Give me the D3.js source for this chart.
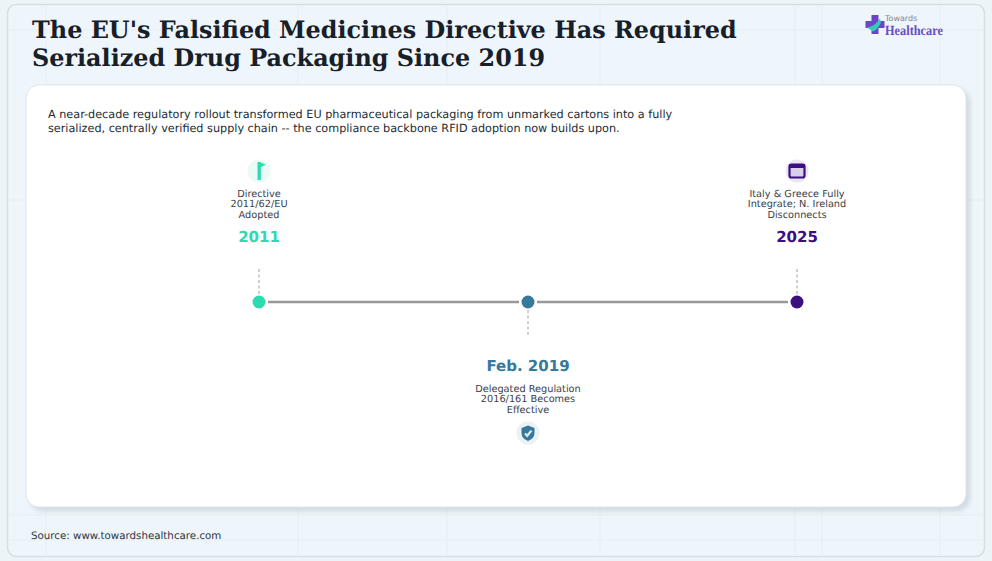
<!DOCTYPE html>
<html>
<head>
<meta charset="utf-8">
<script src="https://cdn.jsdelivr.net/npm/d3@7/dist/d3.min.js"></script>
<style>
html, body { margin: 0; padding: 0; background: #eef5fa; }
svg { display: block; }
text { font-family: "DejaVu Sans", sans-serif; text-rendering: geometricPrecision; }
</style>
</head>
<body>
<div id="chart"></div>
<script>
var titleLines = ["The EU's Falsified Medicines Directive Has Required", "Serialized Drug Packaging Since 2019"];
var subtitleLines = ["A near-decade regulatory rollout transformed EU pharmaceutical packaging from unmarked cartons into a fully",
  "serialized, centrally verified supply chain -- the compliance backbone RFID adoption now builds upon."];
var dates = ["2011", "Feb. 2019", "2025"];
var labels = [["Directive", "2011/62/EU", "Adopted"], ["Delegated Regulation", "2016/161 Becomes", "Effective"], ["Italy & Greece Fully", "Integrate; N. Ireland", "Disconnects"]];
var sides = ["top", "bottom", "top"];
var icons = ["flag", "shield", "window"];
var colors = ["#2ddbb0", "#37799b", "#3b0f80"];
var source = "Source: www.towardshealthcare.com";
var gridX = [46, 298, 447, 600, 795, 822, 940];
var gridY = [30, 200, 515, 540];

var w = 992, h = 561;
var svg = d3.select("#chart").append("svg").attr("width", w).attr("height", h);
var defs = svg.append("defs");

var blur = defs.append("filter").attr("id", "shadow").attr("x", "-5%").attr("y", "-5%").attr("width", "110%").attr("height", "110%");
blur.append("feDropShadow").attr("dx", 4).attr("dy", 4).attr("stdDeviation", 2.5).attr("flood-color", "#9aa6ae").attr("flood-opacity", 0.35);

// background panel
svg.append("rect").attr("width", w).attr("height", h).attr("fill", "#edf4f8");
svg.append("rect").attr("x", 7.5).attr("y", 4.5).attr("width", 977).attr("height", 552).attr("rx", 9)
  .attr("fill", "#eff6fb").attr("stroke", "#d3dfe6").attr("stroke-width", 1.5);

svg.selectAll(".gx").data(gridX).enter().append("line").attr("class", "gx")
  .attr("x1", function (d) { return d; }).attr("x2", function (d) { return d; })
  .attr("y1", 6).attr("y2", 555).attr("stroke", "#e9f1f6").attr("stroke-width", 1.5);
svg.selectAll(".gy").data(gridY).enter().append("line").attr("class", "gy")
  .attr("y1", function (d) { return d; }).attr("y2", function (d) { return d; })
  .attr("x1", 9).attr("x2", 983).attr("stroke", "#e9f1f6").attr("stroke-width", 1.5);

// title
svg.selectAll(".title").data(titleLines).enter().append("text").attr("class", "title")
  .attr("x", 32).attr("y", function (d, i) { return 38 + i * 28; })
  .style("font-family", "'DejaVu Serif', serif")
  .attr("font-weight", "bold").attr("font-size", 23.9).attr("fill", "#17202a")
  .text(function (d) { return d; });

// logo
var logo = svg.append("g").attr("transform", "translate(875,24.5)");
logo.append("path").attr("d", "M-3.5,-9.5 H3.5 V-3.5 H9.5 V3.5 H3.5 V9.5 H-3.5 V3.5 H-9.5 V-3.5 H-3.5 Z").attr("fill", "#6a45c8");
logo.append("path").attr("d", "M-8,3 Q0,2 5,-6 L6,-2 Q2,6 -2,7 Z").attr("fill", "#35c9b8");
svg.append("text").attr("x", 885).attr("y", 21).attr("font-size", 8).attr("fill", "#85858f").text("Towards");
svg.append("text").attr("x", 885).attr("y", 34.5).style("font-family", "'Liberation Serif', serif").attr("font-weight", "bold")
  .attr("font-size", 14).attr("textLength", 58).attr("lengthAdjust", "spacingAndGlyphs").attr("fill", "#6a4bc4").text("Healthcare");

// white card
svg.append("rect").attr("x", 26).attr("y", 85).attr("width", 940).attr("height", 422).attr("rx", 13)
  .attr("fill", "#ffffff").attr("stroke", "#dde6ec").attr("filter", "url(#shadow)");

svg.selectAll(".sub").data(subtitleLines).enter().append("text").attr("class", "sub")
  .attr("x", 48).attr("y", function (d, i) { return 118 + i * 14; })
  .attr("font-size", 11.23).attr("fill", "#222b33").text(function (d) { return d; });

// timeline
var x = d3.scalePoint().domain(dates).range([259, 797]);
var axisY = 302;

svg.selectAll(".seg").data(dates.slice(1)).enter().append("line").attr("class", "seg")
  .attr("x1", function (d, i) { return x(dates[i]) + 9; })
  .attr("x2", function (d) { return x(d) - 9; })
  .attr("y1", axisY).attr("y2", axisY).attr("stroke", "#96999c").attr("stroke-width", 2.4);

var ev = svg.selectAll(".ev").data(dates).enter().append("g").attr("class", "ev")
  .attr("transform", function (d) { return "translate(" + x(d) + ",0)"; });

ev.append("line")
  .attr("y1", function (d, i) { return sides[i] == "top" ? axisY - 33 : axisY + 8; })
  .attr("y2", function (d, i) { return sides[i] == "top" ? axisY - 8 : axisY + 33; })
  .attr("stroke", "#9a9ea2").attr("stroke-width", 1).attr("stroke-dasharray", "3,2.5");

ev.append("circle").attr("cy", axisY).attr("r", 6.5).attr("fill", function (d, i) { return colors[i]; });

ev.append("text").attr("text-anchor", "middle")
  .attr("y", function (d, i) { return sides[i] == "top" ? 242 : 371; })
  .attr("font-size", 15).attr("font-weight", "bold")
  .attr("fill", function (d, i) { return colors[i]; })
  .text(function (d) { return d; });

ev.each(function (d, i) {
  var g = d3.select(this);
  var y0 = sides[i] == "top" ? 196.5 : 391.5;
  g.selectAll(".lbl").data(labels[i]).enter().append("text").attr("class", "lbl")
    .attr("text-anchor", "middle").attr("y", function (t, j) { return y0 + j * 10.5; })
    .attr("font-size", 9.75).attr("fill", "#3a4249").text(function (t) { return t; });

  var iy = sides[i] == "top" ? 171 : 433;
  var c = colors[i];
  g.append("circle").attr("cy", iy).attr("r", 11.5).attr("fill", c).attr("opacity", 0.1);
  var ic = g.append("g").attr("transform", "translate(0," + iy + ")");
  if (icons[i] == "flag") {
    ic.append("rect").attr("x", -1.5).attr("y", -9).attr("width", 3.4).attr("height", 18).attr("fill", c);
    ic.append("path").attr("d", "M0,-9 L7,-6.5 L0,-3 Z").attr("fill", c);
  } else if (icons[i] == "shield") {
    ic.append("path").attr("d", "M0,-7.5 L6.5,-5 V0 Q6.5,5.5 0,8 Q-6.5,5.5 -6.5,0 V-5 Z").attr("fill", c);
    ic.append("path").attr("d", "M-3,0.5 L-0.8,2.8 L3.4,-2.4").attr("fill", "none").attr("stroke", "#dcecf2").attr("stroke-width", 2.2);
  } else {
    ic.append("rect").attr("x", -7.5).attr("y", -6.5).attr("width", 15).attr("height", 13).attr("rx", 2)
      .attr("fill", "#d9cfe8").attr("stroke", c).attr("stroke-width", 2.2);
    ic.append("rect").attr("x", -7.5).attr("y", -6.5).attr("width", 15).attr("height", 3.5).attr("fill", c);
  }
});

svg.append("text").attr("x", 31).attr("y", 539).attr("font-size", 10.28).attr("fill", "#2c343b").text(source);
</script>
</body>
</html>
